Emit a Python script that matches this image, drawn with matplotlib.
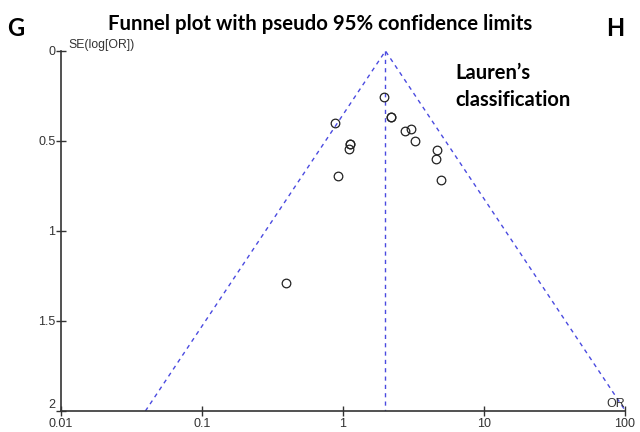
import numpy as np
import matplotlib
matplotlib.use('Agg')
import matplotlib.pyplot as plt

# study estimates
odds_ratio = [1.94, 2.18, 2.18, 0.873, 2.75, 3.04, 3.24, 1.13, 1.13, 1.10, 4.67, 4.59, 0.928, 4.96, 0.397]
se_log_or = [0.254, 0.367, 0.367, 0.398, 0.444, 0.433, 0.50, 0.515, 0.515, 0.544, 0.552, 0.598, 0.694, 0.715, 1.287]
pooled_or = 2.0
se_max = 2.0
x_ticks = [0.01, 0.1, 1, 10, 100]
x_tick_labels = ['0.01', '0.1', '1', '10', '100']
y_ticks = [0, 0.5, 1, 1.5, 2]
y_tick_labels = ['0', '0.5', '1', '1.5', '2']

fig = plt.figure(figsize=(6.4, 4.32), dpi=100)
ax = fig.add_axes([0.0953, 0.0486, 0.8813, 0.8334])

# pseudo 95% limits
lo = pooled_or * np.exp(-1.96 * se_max)
hi = pooled_or * np.exp(1.96 * se_max)
funnel = dict(color='#4a4ae0', lw=1, ls=(0, (3, 3)))
ax.plot([lo, pooled_or, hi], [se_max, 0, se_max], **funnel)
ax.plot([pooled_or, pooled_or], [0, se_max], **funnel)

ax.plot(odds_ratio, se_log_or, 'o', mfc='none', mec='#222222', ms=6.2, mew=0.9)

ax.set_xscale('log')
ax.set_xlim(0.01, 100)
ax.set_ylim(2, 0)
ax.set_xticks(x_ticks)
ax.set_xticklabels(x_tick_labels)
ax.set_yticks(y_ticks)
ax.set_yticklabels(y_tick_labels)
ax.minorticks_off()

for s in ['top', 'right']:
    ax.spines[s].set_visible(False)
for s in ['left', 'bottom']:
    ax.spines[s].set_color('#333333')
    ax.spines[s].set_linewidth(1.2)
ax.tick_params(direction='inout', length=7, width=1, color='#333333',
               labelsize=9, labelcolor='#333333')
ax.tick_params(axis='x', pad=1.5)
ax.tick_params(axis='y', pad=0.5)
for lab in ax.get_yticklabels():
    lab.set_verticalalignment('center_baseline')
for lab in ax.get_xticklabels() + ax.get_yticklabels():
    lab.set_family('Liberation Sans')
# lift the bottom y label a little so it does not sit on 0.01
ax.get_yticklabels()[-1].set_verticalalignment('bottom')

ax.text(0.0112, -0.033, 'SE(log[OR])', fontsize=8.8, color='#333333',
        family='Liberation Sans', ha='left', va='center', clip_on=False)
ax.text(86, 1.96, 'OR', fontsize=9, color='#333333',
        family='Liberation Sans', ha='center', va='center')

fig.text(0.5, 0.944, 'Funnel plot with pseudo 95% confidence limits',
         fontsize=14.7, fontweight='bold', family='Lato', ha='center', va='center')
fig.text(0.025, 0.935, 'G', fontsize=17, fontweight='bold', family='Lato', ha='center', va='center')
fig.text(0.962, 0.935, 'H', fontsize=17, fontweight='bold', family='Lato', ha='center', va='center')
fig.text(0.711, 0.80, 'Lauren\u2019s\nclassification', fontsize=14.5, fontweight='bold',
         family='Lato', ha='left', va='center', linespacing=1.4)

fig.savefig('out.png', dpi=100)
